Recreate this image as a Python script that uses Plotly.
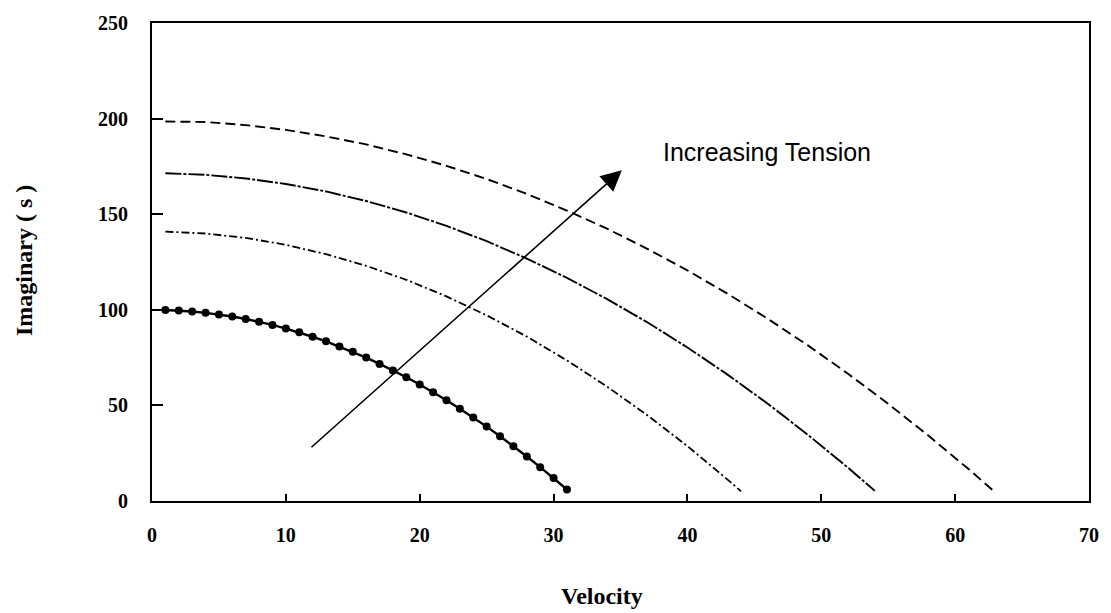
import plotly.graph_objects as go

# ---- data ----
v1 = list(range(1, 32))
im1 = [99.9, 99.6, 99.1, 98.4, 97.6, 96.5, 95.2, 93.7, 92.1, 90.2,
       88.2, 85.9, 83.5, 80.8, 78.0, 75.0, 71.7, 68.3, 64.7, 60.9,
       56.9, 52.7, 48.3, 43.7, 38.9, 33.9, 28.7, 23.3, 17.7, 12.0, 6.0]

v2 = [1, 4, 7, 10, 13, 16, 19, 22, 25, 28, 31, 34, 37, 40, 43, 44]
im2 = [140.9, 139.9, 137.6, 134.0, 129.1, 123.0, 115.7, 107.0, 97.1,
       86.0, 73.5, 59.8, 44.9, 28.7, 11.2, 5.1]

v3 = [1, 4, 7, 10, 13, 16, 19, 22, 25, 28, 31, 34, 37, 40, 43, 46, 49, 52, 54]
im3 = [171.4, 170.6, 168.7, 165.8, 161.9, 156.9, 150.9, 143.9, 135.9,
       126.8, 116.7, 105.6, 93.5, 80.3, 66.1, 50.9, 34.6, 17.4, 5.3]

v4 = [1, 4, 7, 10, 13, 16, 19, 22, 25, 28, 31, 34, 37, 40, 43, 46, 49,
      52, 55, 58, 61, 63]
im4 = [198.5, 198.2, 196.6, 194.1, 190.7, 186.5, 181.3, 175.3, 168.4,
       160.6, 151.9, 142.4, 131.9, 120.6, 108.4, 95.3, 81.4, 66.5, 50.8,
       34.2, 16.7, 4.5]

arrow_start = (11.8, 27.4)
arrow_end = (35.1, 173.0)

x_ticks = [0, 10, 20, 30, 40, 50, 60, 70]
y_ticks = [0, 50, 100, 150, 200, 250]

# ---- figure ----
fig = go.Figure()
fig.add_trace(go.Scatter(x=v1, y=im1, mode="lines+markers",
                         line=dict(color="black", width=2.4),
                         marker=dict(color="black", size=8, symbol="circle")))
fig.add_trace(go.Scatter(x=v2, y=im2, mode="lines",
                         line=dict(color="black", width=1.8,
                                   dash="8px,3px,2px,3px")))
fig.add_trace(go.Scatter(x=v3, y=im3, mode="lines",
                         line=dict(color="black", width=1.9,
                                   dash="16px,2px,3px,2px")))
fig.add_trace(go.Scatter(x=v4, y=im4, mode="lines",
                         line=dict(color="black", width=1.9,
                                   dash="10px,5px")))

serif = "Liberation Serif"
fig.update_layout(
    width=1111, height=613,
    margin=dict(l=152, r=18, t=18, b=112),
    paper_bgcolor="white", plot_bgcolor="white",
    showlegend=False,
    xaxis=dict(range=[0, 70], tickvals=x_ticks, ticks="inside", ticklen=7,
               tickwidth=2, tickcolor="black", showgrid=False, zeroline=False,
               showline=True, linecolor="black", linewidth=2, mirror=True,
               ticklabelstandoff=15,
               tickfont=dict(family=serif, size=20, color="black", weight="bold")),
    yaxis=dict(range=[0, 250], tickvals=y_ticks, ticks="inside", ticklen=11,
               tickwidth=2, tickcolor="black", showgrid=False, zeroline=False,
               showline=True, linecolor="black", linewidth=2, mirror=True,
               ticklabelstandoff=18,
               tickfont=dict(family=serif, size=20, color="black", weight="bold")),
)

fig.add_annotation(x=arrow_end[0], y=arrow_end[1], ax=arrow_start[0], ay=arrow_start[1],
                   xref="x", yref="y", axref="x", ayref="y", text="",
                   showarrow=True, arrowhead=2, arrowsize=2.6, arrowwidth=1.6,
                   arrowcolor="black")
fig.add_annotation(x=(770 - 152) / 941, y=(501 - 148) / 483, xref="paper", yref="paper",
                   text="Increasing Tension", showarrow=False,
                   xanchor="center", yanchor="middle",
                   font=dict(family="Liberation Sans", size=25, color="black"))
fig.add_annotation(x=(604 - 152) / 941, y=(501 - 597) / 483, xref="paper", yref="paper",
                   text="<b>Velocity</b>", showarrow=False, xanchor="center", yanchor="middle",
                   font=dict(family=serif, size=24, color="black"))
fig.add_annotation(x=(23 - 152) / 941, y=(501 - 258) / 483, xref="paper", yref="paper",
                   text="<b>Imaginary ( s )</b>", showarrow=False, textangle=-90,
                   xanchor="center", yanchor="middle",
                   font=dict(family=serif, size=24, color="black"))

fig.write_html("out.html")
